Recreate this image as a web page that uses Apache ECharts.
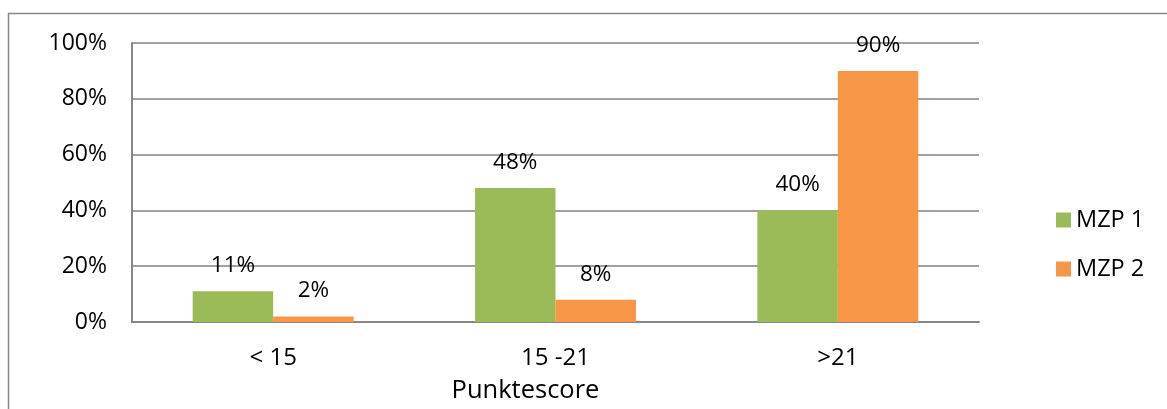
<!DOCTYPE html>
<html>
<head>
<meta charset="utf-8">
<script src="https://cdn.jsdelivr.net/npm/echarts@6/dist/echarts.min.js"></script>
<style>html,body{margin:0;padding:0;background:#fff;}#c{width:1167px;height:409px;}</style>
</head>
<body>
<div id="c"></div>
<script>
const categories = ['< 15', '15 -21', '>21'];
const seriesNames = ['MZP 1', 'MZP 2'];
const mzp1 = [11, 48, 40];
const mzp2 = [2, 8, 90];
const xAxisTitle = 'Punktescore';

const FONT = 'Open Sans';
const chart = echarts.init(document.getElementById('c'), null, {renderer: 'canvas'});
const labelStyle = {show: true, position: 'top', distance: 14, formatter: '{c}%', color: '#000', fontFamily: FONT, fontSize: 22.5};
chart.setOption({
  animation: false,
  backgroundColor: '#fff',
  textStyle: {fontFamily: FONT},
  graphic: [{
    type: 'rect', z: -1,
    shape: {x: 8.5, y: 13.5, width: 1250, height: 500},
    style: {fill: 'none', stroke: '#888', lineWidth: 1.5}
  }],
  grid: {left: 132, right: 188, top: 43, bottom: 87},
  legend: {
    orient: 'vertical', left: 1056, top: 208, padding: 0,
    itemWidth: 15, itemHeight: 15, itemGap: 25, itemTextGap: 7,
    icon: 'rect',
    textStyle: {fontFamily: FONT, fontSize: 23.5, color: '#000'},
    data: seriesNames
  },
  xAxis: {
    type: 'category', data: categories,
    name: xAxisTitle, nameLocation: 'middle', nameGap: 56,
    nameTextStyle: {fontFamily: FONT, fontSize: 25.5, color: '#000', padding: [0, 60, 0, 0]},
    axisLine: {lineStyle: {color: '#888', width: 2}},
    axisTick: {show: false},
    axisLabel: {margin: 24, color: '#000', fontFamily: FONT, fontSize: 24}
  },
  yAxis: {
    type: 'value', min: 0, max: 100, interval: 20,
    axisLine: {show: true, lineStyle: {color: '#888', width: 2}},
    axisTick: {show: false},
    axisLabel: {formatter: '{value}%', margin: 25, color: '#000', fontFamily: FONT, fontSize: 23},
    splitLine: {lineStyle: {color: '#a0a0a0', width: 2}}
  },
  series: [
    {name: seriesNames[0], type: 'bar', data: mzp1, barGap: '0%', barCategoryGap: '43%',
     itemStyle: {color: '#9BBB59'}, label: labelStyle},
    {name: seriesNames[1], type: 'bar', data: mzp2, barGap: '0%', barCategoryGap: '43%',
     itemStyle: {color: '#F79646'}, label: labelStyle}
  ]
});
</script>
</body>
</html>
